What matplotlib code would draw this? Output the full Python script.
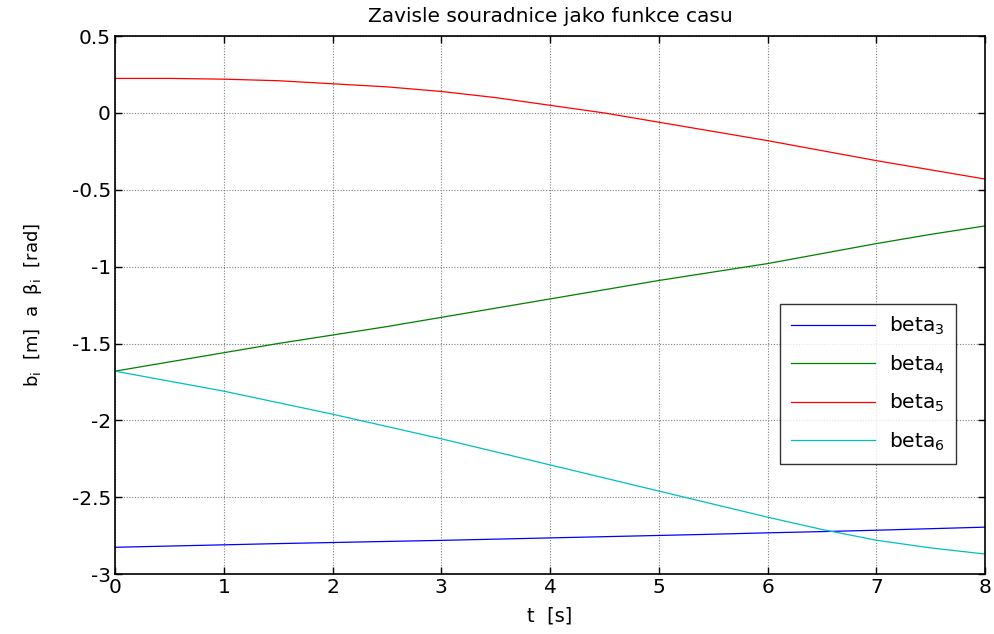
import matplotlib
matplotlib.use("Agg")
import matplotlib.pyplot as plt
import numpy as np

plt.rcParams['font.family'] = ['DejaVu Sans']
plt.rcParams['mathtext.fontset'] = 'dejavusans'

t = [0, 0.5, 1, 1.5, 2, 2.5, 3, 3.5, 4, 4.5, 5, 5.5, 6, 6.5, 7, 7.5, 8]
beta3 = [-2.826, -2.818, -2.81, -2.802, -2.795, -2.788, -2.781, -2.773, -2.765,
         -2.757, -2.749, -2.741, -2.732, -2.724, -2.715, -2.705, -2.695]
beta4 = [-1.68, -1.62, -1.56, -1.50, -1.445, -1.39, -1.33, -1.27, -1.21,
         -1.15, -1.09, -1.035, -0.98, -0.915, -0.85, -0.79, -0.735]
beta5 = [0.225, 0.225, 0.22, 0.21, 0.19, 0.17, 0.14, 0.10, 0.05,
         0.0, -0.06, -0.12, -0.18, -0.245, -0.31, -0.37, -0.43]
beta6 = [-1.68, -1.745, -1.81, -1.885, -1.96, -2.04, -2.12, -2.205, -2.29,
         -2.375, -2.46, -2.545, -2.63, -2.71, -2.78, -2.83, -2.87]

labels = ['beta$_3$', 'beta$_4$', 'beta$_5$', 'beta$_6$']
colors = ['#0000ff', '#008000', '#ff0000', '#00bfbf']

fig = plt.figure(figsize=(9.95, 6.34), dpi=100)
ax = fig.add_axes([0.1156, 0.0946, 0.8744, 0.8484])

for y, lab, c in zip([beta3, beta4, beta5, beta6], labels, colors):
    ax.plot(t, y, color=c, lw=0.9, label=lab)

ax.set_xlim(0, 8)
ax.set_ylim(-3, 0.5)
ax.set_xticks(range(0, 9))
ax.set_yticks([-3, -2.5, -2, -1.5, -1, -0.5, 0, 0.5])
ax.set_yticklabels(['-3', '-2.5', '-2', '-1.5', '-1', '-0.5', '0', '0.5'])
ax.grid(True, color='#808080', linestyle=(0, (1, 1.5)), lw=0.8)
ax.tick_params(direction='in', top=True, right=True, labelsize=14.5, length=5, width=1,
               pad=3)
for s in ax.spines.values():
    s.set_linewidth(1.2)

ax.set_title('Zavisle souradnice jako funkce casu', fontsize=14.5, pad=10)
ax.set_xlabel('t  [s]', fontsize=14, labelpad=7)
ax.set_ylabel('b$_\\mathrm{i}$  [m]  a  \u03b2$_\\mathrm{i}$  [rad]', fontsize=13, labelpad=20)

leg = ax.legend(loc='upper left', bbox_to_anchor=(0.764, 0.502), borderaxespad=0,
                fontsize=14.5, frameon=True, fancybox=False, edgecolor='black',
                handlelength=4.2, labelspacing=0.8, borderpad=0.55, handletextpad=0.7)
leg.get_frame().set_linewidth(1.0)

fig.savefig('out.png', dpi=100)
